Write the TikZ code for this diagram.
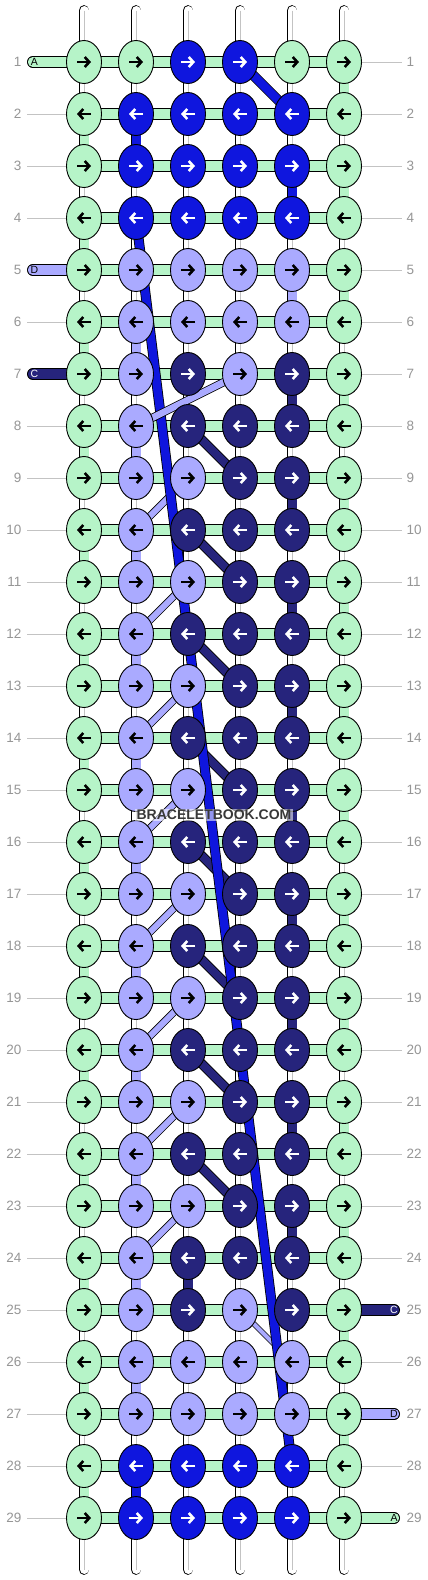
\documentclass[tikz,border=0pt]{standalone}
\usepackage{fontspec}
\setmainfont{Liberation Sans}
\usetikzlibrary{shapes.geometric,arrows.meta}

\definecolor{kgreen}{RGB}{182,244,200}
\definecolor{kblue}{RGB}{15,22,222}
\definecolor{klav}{RGB}{170,170,255}
\definecolor{knavy}{RGB}{38,36,124}
\definecolor{numgray}{RGB}{150,150,150}
\definecolor{linegray}{RGB}{195,195,195}

\tikzset{
knot/.style={draw=black, line width=0.9pt, ellipse, minimum width=35pt,
minimum height=43pt, inner sep=0pt},
gk/.style={fill=kgreen}, bk/.style={fill=kblue},
lk/.style={fill=klav}, nk/.style={fill=knavy},
ga/.style={draw=black}, ba/.style={draw=white},
la/.style={draw=black}, na/.style={draw=white},
arw/.style={line width=2.6pt, -{Straight Barb[length=4.5pt,width=10pt]}},
band/.style={draw=black, line width=0.8pt, double=#1, double distance=10pt},
gapbar/.style={draw=black, line width=0.9pt, double=#1, double distance=9pt},
slant/.style={draw=black, line width=0.8pt, double=#1, double distance=7.5pt},
rowline/.style={draw=linegray, line width=0.8pt},
rownum/.style={text=numgray, inner sep=0pt, font=\fontsize{13.5}{13.5}\selectfont},
endlbl/.style={inner sep=0pt, font=\fontsize{10.5}{10.5}\selectfont},
}

\begin{document}
\begin{tikzpicture}[x=1pt, y=-1pt]
\fill[white] (0,0) rectangle (428,1580);
\useasboundingbox (0,0) rectangle (428,1580);

\foreach \r in {1,...,29}
  \foreach \c in {1,...,6}
    \coordinate (p-\r-\c) at ({32+52*\c},{10+52*\r});

\foreach \c in {1,...,6} {
  \coordinate (top-\c) at ({32+52*\c},10.5);
  \coordinate (bot-\c) at ({32+52*\c},1569.5);
  \draw[gapbar=white, line cap=round] (top-\c) -- (bot-\c);
  \draw[linegray, line width=0.7pt] (top-\c) -- (bot-\c);
}

\foreach \r/\c/\clr in {2/2/kblue,3/5/kblue,28/2/kblue,5/5/klav,24/3/knavy} {
  \pgfmathtruncatemacro\s{\r+1}
  \draw[gapbar=\clr] (p-\r-\c) -- (p-\s-\c);
}
\foreach \r in {2,4,...,28} {\pgfmathtruncatemacro\s{\r+1}
  \draw[gapbar=kgreen] (p-\r-1) -- (p-\s-1);}
\foreach \r in {1,3,...,27} {\pgfmathtruncatemacro\s{\r+1}
  \draw[gapbar=kgreen] (p-\r-6) -- (p-\s-6);}
\foreach \r in {6,8,...,26} {\pgfmathtruncatemacro\s{\r+1}
  \draw[gapbar=klav] (p-\r-2) -- (p-\s-2);}
\foreach \r in {7,9,...,23} {\pgfmathtruncatemacro\s{\r+1}
  \draw[gapbar=knavy] (p-\r-5) -- (p-\s-5);}

\foreach \r in {2,3,4,6,8,9,10,11,12,13,14,15,16,17,18,19,20,21,22,23,24,25,26,27,28,29} {
  \coordinate (lft-\r) at (27,{10+52*\r});
  \draw[rowline] (lft-\r) -- (p-\r-1);
}
\foreach \r in {1,2,3,4,5,6,7,8,9,10,11,12,13,14,15,16,17,18,19,20,21,22,23,24,26,28} {
  \coordinate (rgt-\r) at (402,{10+52*\r});
  \draw[rowline] (p-\r-6) -- (rgt-\r);
}

\foreach \r in {1,...,29}
  \foreach \c in {1,...,5} {
    \pgfmathtruncatemacro\nc{\c+1}
    \draw[band=kgreen] (p-\r-\c) -- (p-\r-\nc);
  }

\foreach \r/\lbl/\clr/\tc in {1/A/kgreen/black,5/D/klav/black,7/C/knavy/white} {
  \coordinate (in-\lbl) at (32.8,{10+52*\r});
  \draw[band=\clr, line cap=round] (in-\lbl) -- (p-\r-1);
  \node[endlbl, text=\tc] (tag-in-\lbl) at (34.5,{10+52*\r}) {\lbl};
}
\foreach \r/\lbl/\clr/\tc in {25/C/knavy/white,27/D/klav/black,29/A/kgreen/black} {
  \coordinate (out-\lbl) at (394.2,{10+52*\r});
  \draw[band=\clr, line cap=round] (p-\r-6) -- (out-\lbl);
  \node[endlbl, text=\tc] (tag-out-\lbl) at (394,{10+52*\r}) {\lbl};
}

\foreach \r in {9,11,...,23} {\pgfmathtruncatemacro\s{\r+1}
  \draw[slant=klav, double distance=6pt] (p-\r-3) -- (p-\s-2);}
\draw[slant=klav, double distance=4pt] (p-25-4) -- (p-26-5);
\foreach \r in {8,10,...,22} {\pgfmathtruncatemacro\s{\r+1}
  \draw[slant=knavy, double distance=8pt] (p-\r-3) -- (p-\s-4);}
\draw[slant=kblue, double distance=8.5pt] (p-1-4) -- (p-2-5);
\draw[slant=kblue, double distance=8.5pt] (p-4-2) -- (p-28-5);
\draw[slant=klav, double distance=6.5pt] (p-7-4) -- (p-8-2);

\foreach \row [count=\r] in {
{g,g,b,b,g,g},{g,b,b,b,b,g},{g,b,b,b,b,g},{g,b,b,b,b,g},
{g,l,l,l,l,g},{g,l,l,l,l,g},{g,l,n,l,n,g},{g,l,n,n,n,g},
{g,l,l,n,n,g},{g,l,n,n,n,g},{g,l,l,n,n,g},{g,l,n,n,n,g},
{g,l,l,n,n,g},{g,l,n,n,n,g},{g,l,l,n,n,g},{g,l,n,n,n,g},
{g,l,l,n,n,g},{g,l,n,n,n,g},{g,l,l,n,n,g},{g,l,n,n,n,g},
{g,l,l,n,n,g},{g,l,n,n,n,g},{g,l,l,n,n,g},{g,l,n,n,n,g},
{g,l,n,l,n,g},{g,l,l,l,l,g},{g,l,l,l,l,g},{g,b,b,b,b,g},
{g,b,b,b,b,g}}
  \foreach \kc [count=\c] in \row {
    \node[knot, \kc k] (k-\r-\c) at (p-\r-\c) {};
    \ifodd\r\relax
      \draw[arw, \kc a] ([xshift=-7pt]k-\r-\c.center) -- ([xshift=7pt]k-\r-\c.center);
    \else
      \draw[arw, \kc a] ([xshift=7pt]k-\r-\c.center) -- ([xshift=-7pt]k-\r-\c.center);
    \fi
  }

\foreach \r in {1,...,29} {
  \node[rownum, anchor=east] (ln-\r) at (21.5,{10+52*\r}) {\r};
  \node[rownum, anchor=west] (rn-\r) at (406.5,{10+52*\r}) {\r};
}

\node[font=\bfseries\fontsize{14}{14}\selectfont, text=black!78, fill=white,
fill opacity=0.55, text opacity=1, inner sep=1.5pt] (wmark) at (214,815) {BRACELETBOOK.COM};
\end{tikzpicture}
\end{document}
